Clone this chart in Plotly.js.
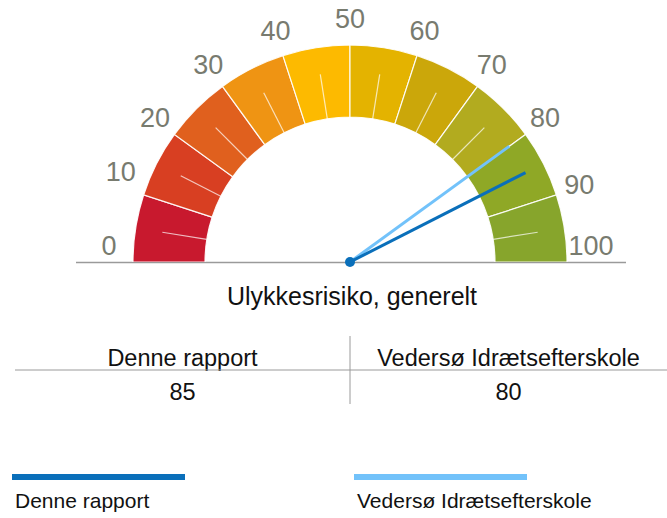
<!DOCTYPE html>
<html><head><meta charset="utf-8">
<script src="https://cdn.plot.ly/plotly-3.0.1.min.js"></script>
<style>html,body{margin:0;padding:0;background:#fff}</style>
</head><body><div id="chart" style="width:667px;height:518px"></div>
<script>
// ---- data ----
const bandStarts = [0, 10, 20, 30, 40, 50, 60, 70, 80, 90];
const bandEnds   = [10, 20, 30, 40, 50, 60, 70, 80, 90, 100];
const bandColors = ["#c8192e", "#d83f22", "#e0601e", "#ef9413", "#fdba00",
                    "#e4b300", "#cba70a", "#b2ab1f", "#8fa826", "#87a52c"];
const tickValues = [0, 10, 20, 30, 40, 50, 60, 70, 80, 90, 100];
const tickLabels = ["0", "10", "20", "30", "40", "50", "60", "70", "80", "90", "100"];
const minorTickValues = [5, 15, 25, 35, 45, 55, 65, 75, 85, 95];
const seriesNames = ["Denne rapport", "Vedersø Idrætsefterskole"];
const seriesValues = [85, 80];
const seriesColors = ["#0a6fba", "#72c2fa"];
const chartTitle = "Ulykkesrisiko, generelt";
const gaugeMin = 0, gaugeMax = 100;

// ---- geometry / style ----
const W = 667, H = 518;
const cx = 350, cy = 262, R = 260;          // polar frame (px)
const innerR = 145, outerR = 217, minorOuter = 190, needleLen = 197, labelR = 241;
const FONT = "Liberation Sans, Arial, sans-serif";
const labelPos = tickValues.map(v => (v <= 10 || v >= 100) ? "top center" : "middle center");

const toDeg = v => (v - gaugeMin) / (gaugeMax - gaugeMin) * 180;

const traces = [];
// bands
traces.push({
  type: "barpolar",
  theta: bandStarts.map((s, i) => toDeg((s + bandEnds[i]) / 2)),
  width: bandStarts.map((s, i) => toDeg(bandEnds[i]) - toDeg(s)),
  base: bandStarts.map(() => innerR),
  r: bandStarts.map(() => outerR - innerR),
  marker: { color: bandColors, line: { color: "rgba(255,255,255,0.9)", width: 1.2 } },
  hoverinfo: "skip", showlegend: false
});
// minor ticks
const mr = [], mt = [];
minorTickValues.forEach(v => { mr.push(innerR, minorOuter, null); mt.push(toDeg(v), toDeg(v), null); });
traces.push({
  type: "scatterpolar", mode: "lines", r: mr, theta: mt, connectgaps: false,
  line: { color: "rgba(255,255,255,0.7)", width: 1.2 }, hoverinfo: "skip", showlegend: false
});
// needles (light first, dark on top)
for (let i = seriesValues.length - 1; i >= 0; i--) {
  traces.push({
    type: "scatterpolar", mode: "lines",
    r: [0, needleLen], theta: [toDeg(seriesValues[i]), toDeg(seriesValues[i])],
    line: { color: seriesColors[i], width: 3 }, name: seriesNames[i],
    hoverinfo: "name", showlegend: false
  });
}
// pivot
traces.push({
  type: "scatterpolar", mode: "markers", r: [0], theta: [0],
  marker: { color: seriesColors[0], size: 10 }, hoverinfo: "skip", showlegend: false
});
// labels
traces.push({
  type: "scatterpolar", mode: "text", cliponaxis: false,
  r: tickValues.map(() => labelR), theta: tickValues.map(toDeg),
  text: tickLabels, textposition: labelPos,
  textfont: { family: FONT, size: 27, color: "#787b6f" },
  hoverinfo: "skip", showlegend: false
});
// table
traces.push({
  type: "table",
  domain: { x: [15 / W, 1], y: [(H - 408) / H, (H - 340) / H] },
  columnwidth: [335, 317],
  header: {
    values: seriesNames, align: "center", height: 34,
    fill: { color: "rgba(0,0,0,0)" }, line: { width: 0, color: "rgba(0,0,0,0)" },
    font: { family: FONT, size: 23.5, color: "#111111" }
  },
  cells: {
    values: seriesValues.map(v => [v]), align: "center", height: 34,
    fill: { color: "rgba(0,0,0,0)" }, line: { width: 0, color: "rgba(0,0,0,0)" },
    font: { family: FONT, size: 23.5, color: "#111111" }
  }
});

const shapes = [
  // baseline
  { type: "line", xref: "paper", yref: "paper", x0: 76 / W, x1: 626 / W, y0: 1 - 262.5 / H, y1: 1 - 262.5 / H,
    line: { color: "#9a9a9a", width: 1.5 }, layer: "below" },
  // table header rule
  { type: "line", xref: "paper", yref: "paper", x0: 15 / W, x1: 1, y0: 1 - 370 / H, y1: 1 - 370 / H,
    line: { color: "#9a9a9a", width: 1 } },
  // table column divider
  { type: "line", xref: "paper", yref: "paper", x0: 350 / W, x1: 350 / W, y0: 1 - 336 / H, y1: 1 - 404 / H,
    line: { color: "#9a9a9a", width: 1 } }
];
const annotations = [];
const legendX = [12, 354];
seriesNames.forEach((n, i) => {
  shapes.push({ type: "line", xref: "paper", yref: "paper",
    x0: legendX[i] / W, x1: (legendX[i] + 173) / W, y0: 1 - 477 / H, y1: 1 - 477 / H,
    line: { color: seriesColors[i], width: 6 } });
  annotations.push({ xref: "paper", yref: "paper", x: (legendX[i] + 1) / W, y: 1 - 500 / H,
    xanchor: "left", yanchor: "middle", showarrow: false, text: n,
    font: { family: FONT, size: 21, color: "#111111" } });
});

const layout = {
  width: W, height: H, margin: { l: 0, r: 0, t: 0, b: 0 },
  paper_bgcolor: "#ffffff", plot_bgcolor: "#ffffff", showlegend: false,
  title: { text: chartTitle, x: 352 / W, y: 1 - 296 / H, xanchor: "center", yanchor: "middle",
           font: { family: FONT, size: 25, color: "#111111" } },
  polar: {
    domain: { x: [(cx - R) / W, (cx + R) / W], y: [(H - cy) / H, (H - cy + R) / H] },
    sector: [0, 180], hole: 0, bgcolor: "rgba(0,0,0,0)",
    radialaxis: { range: [0, R], visible: false, showgrid: false },
    angularaxis: { rotation: 180, direction: "clockwise", visible: false, showgrid: false }
  },
  shapes, annotations
};
Plotly.newPlot("chart", traces, layout, { displayModeBar: false, staticPlot: true });
</script></body></html>
